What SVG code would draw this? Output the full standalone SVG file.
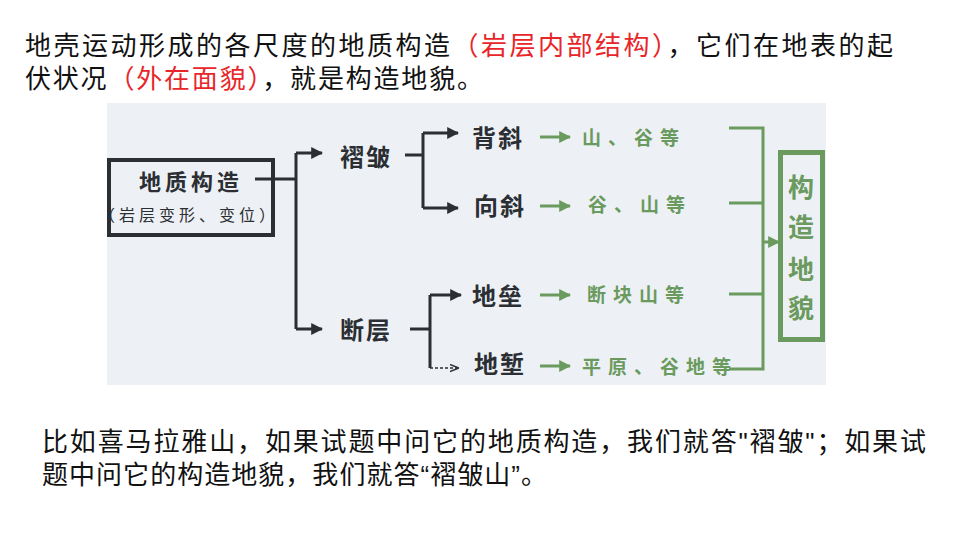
<svg xmlns="http://www.w3.org/2000/svg" width="960" height="540" viewBox="0 0 960 540">
<defs>
<style>
.t{font-family:"Noto Sans CJK SC","Noto Sans",sans-serif;font-size:26px;fill:#111}
.red{fill:#e8262a}
.q{font-family:"Liberation Sans",sans-serif}
.lb{font-family:"Noto Sans CJK SC",sans-serif;font-weight:bold;font-size:24px;letter-spacing:2px;fill:#2b2e33}
.gt{font-family:"Noto Sans CJK SC",sans-serif;font-weight:bold;font-size:19px;letter-spacing:7px;fill:#6b9a5f}
.gv{font-family:"Noto Sans CJK SC",sans-serif;font-weight:bold;font-size:26px;fill:#6b9a5f}
.dk{stroke:#2b2e33;stroke-width:3;fill:none}
.gr{stroke:#6b9a5f;stroke-width:3;fill:none}
</style>
<marker id="ad" viewBox="0 0 10 10" refX="9" refY="5" markerWidth="4" markerHeight="4" markerUnits="strokeWidth" orient="auto">
<path d="M0,0 L10,5 L0,10 z" fill="#2b2e33"/>
</marker>
<marker id="ag" viewBox="0 0 10 10" refX="9" refY="5" markerWidth="4" markerHeight="4" markerUnits="strokeWidth" orient="auto">
<path d="M0,0 L10,5 L0,10 z" fill="#6b9a5f"/>
</marker>
<marker id="ao" viewBox="0 0 10 10" refX="9" refY="5" markerWidth="6" markerHeight="6" markerUnits="strokeWidth" orient="auto">
<path d="M0,1 L10,5 L0,9" fill="none" stroke="#2b2e33" stroke-width="1.5"/>
</marker>
</defs>
<rect width="960" height="540" fill="#ffffff"/>

<g id="intro">
<text class="t" x="25" y="55" textLength="868" lengthAdjust="spacing">地壳运动形成的各尺度的地质构造<tspan class="red">（岩层内部结构）</tspan>，它们在地表的起</text>
<text class="t" x="25" y="88" textLength="458" lengthAdjust="spacing">伏状况<tspan class="red">（外在面貌）</tspan>，就是构造地貌。</text>
</g>

<rect id="panel" x="107" y="103" width="719" height="282" fill="#edf1f5"/>

<g id="connectors">
<path class="dk" d="M255,179 H296"/>
<path class="dk" d="M296,153 V329"/>
<path class="dk" d="M296,153 H322" marker-end="url(#ad)"/>
<path class="dk" d="M296,329 H322" marker-end="url(#ad)"/>
<path class="dk" d="M405,155 H423"/>
<path class="dk" d="M423,133 V208"/>
<path class="dk" d="M423,133 H458" marker-end="url(#ad)"/>
<path class="dk" d="M423,208 H458" marker-end="url(#ad)"/>
<path class="dk" d="M410,329 H430"/>
<path class="dk" d="M430,295 V368"/>
<path class="dk" d="M430,295 H461" marker-end="url(#ad)"/>
<path d="M430,368 H458" stroke="#2b2e33" stroke-width="1.5" stroke-dasharray="3 2" fill="none" marker-end="url(#ao)"/>
<path class="gr" d="M540,137 H570" marker-end="url(#ag)"/>
<path class="gr" d="M540,206 H570" marker-end="url(#ag)"/>
<path class="gr" d="M540,295 H570" marker-end="url(#ag)"/>
<path class="gr" d="M540,366 H570" marker-end="url(#ag)"/>
<path class="gr" d="M729,128 H763 V369 H729"/>
<path class="gr" d="M729,203 H763"/>
<path class="gr" d="M729,294 H763"/>
<path class="gr" d="M763,242 H779" marker-end="url(#ag)"/>
</g>

<g id="node-dizhigouzao">
<rect x="109" y="160" width="164" height="75" fill="none" stroke="#2b2e33" stroke-width="4"/>
<text class="lb" x="191" y="190" text-anchor="middle" style="font-size:22px;letter-spacing:4px">地质构造</text>
<text x="189" y="221" text-anchor="middle" style="font-family:'Noto Sans CJK SC',sans-serif;font-size:16px;letter-spacing:4px;fill:#2b2e33">（岩层变形、变位）</text>
</g>

<g id="node-zhouzhou"><text class="lb" x="340" y="166">褶皱</text></g>
<g id="node-duanceng"><text class="lb" x="340" y="339">断层</text></g>
<g id="node-beixie"><text class="lb" x="472" y="147">背斜</text></g>
<g id="node-xiangxie"><text class="lb" x="474" y="215">向斜</text></g>
<g id="node-dilei"><text class="lb" x="472" y="305">地垒</text></g>
<g id="node-diqian"><text class="lb" x="474" y="373">地堑</text></g>

<g id="landform-1"><text class="gt" x="582" y="145">山、谷等</text></g>
<g id="landform-2"><text class="gt" x="588" y="212">谷、山等</text></g>
<g id="landform-3"><text class="gt" x="587" y="302">断块山等</text></g>
<g id="landform-4"><text class="gt" x="582" y="374">平原、谷地等</text></g>

<g id="node-gouzaodimao">
<rect x="780.5" y="152.5" width="42" height="187" fill="none" stroke="#6b9a5f" stroke-width="5"/>
<text class="gv" x="801" y="197" text-anchor="middle">构</text>
<text class="gv" x="801" y="237" text-anchor="middle">造</text>
<text class="gv" x="801" y="279" text-anchor="middle">地</text>
<text class="gv" x="801" y="318" text-anchor="middle">貌</text>
</g>

<g id="example">
<text class="t" x="42" y="451" textLength="884" lengthAdjust="spacing">比如喜马拉雅山，如果试题中问它的地质构造，我们就答<tspan class="q">"</tspan>褶皱<tspan class="q">"</tspan>；如果试</text>
<text class="t" x="42" y="484" textLength="505" lengthAdjust="spacing">题中问它的构造地貌，我们就答<tspan class="q">“</tspan>褶皱山<tspan class="q">”</tspan>。</text>
</g>
</svg>
